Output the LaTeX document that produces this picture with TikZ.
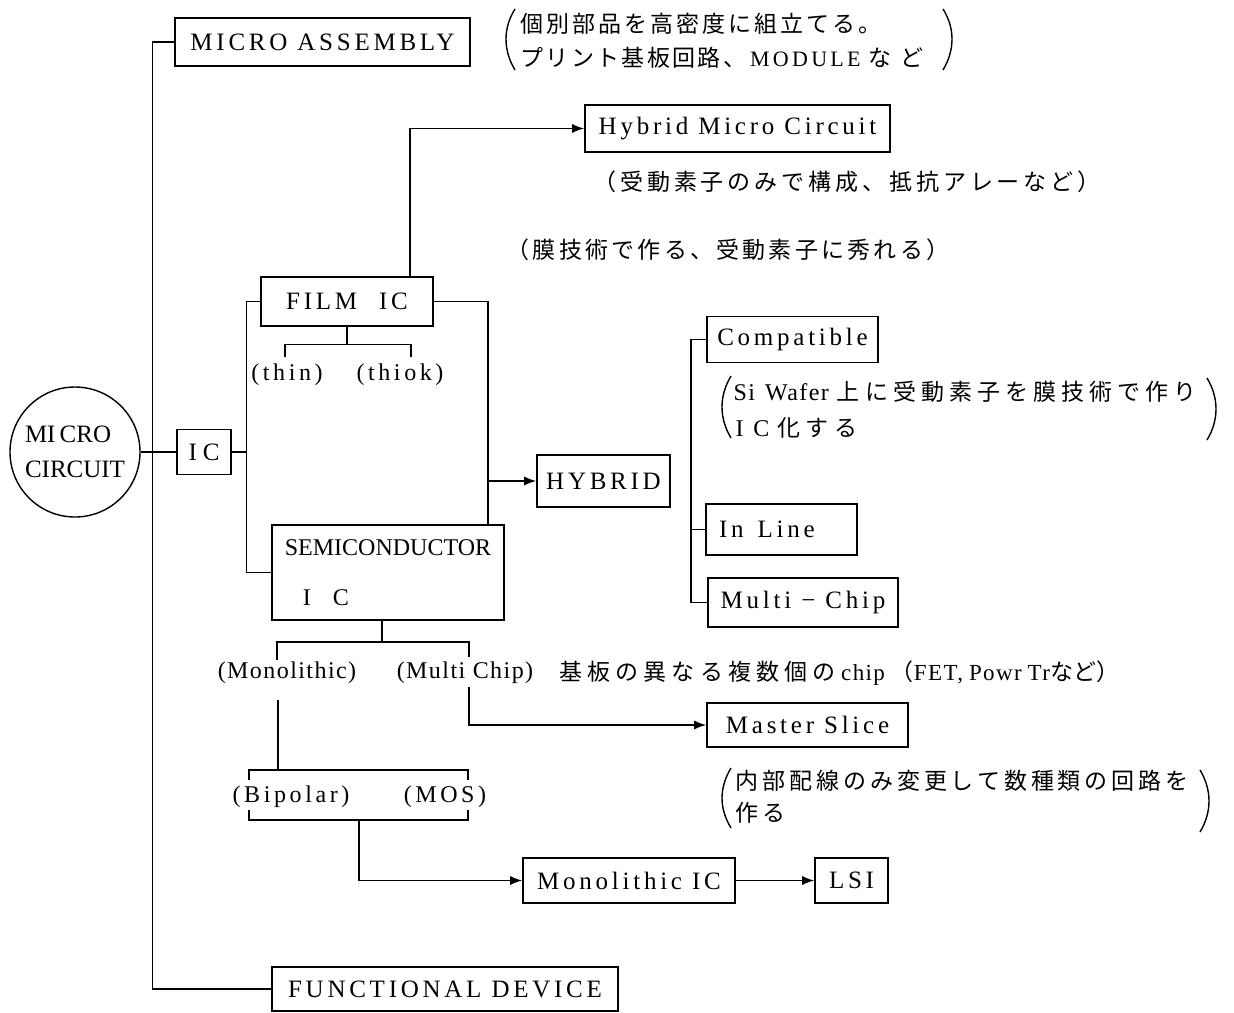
\documentclass[tikz,border=0pt]{standalone}
\usepackage{fontspec}
\setmainfont{Liberation Serif}
\newfontfamily\bxf[LetterSpace=15]{Liberation Serif}
\newfontfamily\mdf[LetterSpace=6]{Liberation Serif}
\newfontfamily\cjk{Noto Sans CJK JP}
\usetikzlibrary{arrows.meta}
\newcommand\js[2]{{\cjk\addfontfeatures{LetterSpace=#1}#2}}
\begin{document}
\begin{tikzpicture}[x=1pt,y=-1pt,line width=1.4pt,
  box/.style={draw,line width=1.6pt,inner sep=0pt,font=\fontsize{25}{29}\bxf},
  arr/.style={-{Latex[length=12pt,width=9pt]}},
  lbl/.style={inner sep=0pt,font=\fontsize{24}{28}\bxf},
  mlbl/.style={inner sep=0pt,font=\fontsize{24}{28}\mdf},
  jt/.style={inner sep=0pt,anchor=west,font=\fontsize{23}{27}\selectfont},
  paren/.style={line width=1.4pt}]
\fill[white] (0,0) rectangle (1234,1012);
\useasboundingbox (0,0) rectangle (1234,1012);

% nodes
\node[draw,circle,line width=1.4pt,minimum size=130pt,inner sep=0pt,align=left,
      font=\fontsize{25}{35}\selectfont] (mc) at (75,452) {MI\,CRO\\CIRCUIT};
\node[box,minimum width=295pt,minimum height=48pt] (ma) at (322.5,42) {MICRO ASSEMBLY};
\node[box,minimum width=305pt,minimum height=47pt] (hmc) at (737.5,128.5) {Hybrid Micro Circuit};
\node[box,minimum width=172pt,minimum height=49pt] (film) at (347,301.5) {FILM\hspace{22pt}IC};
\node[box,minimum width=54pt,minimum height=45pt] (ic) at (204,452) {I\hspace{6pt}C};
\node[box,minimum width=232pt,minimum height=95pt,align=left,font=\fontsize{24}{28}\selectfont]
      (semi) at (388,572.5) {SEMICONDUCTOR\\[22pt]\hspace{18pt}I\hspace{22pt}C};
\node[box,minimum width=133pt,minimum height=52pt] (hyb) at (603.5,481) {HYBRID};
\node[box,minimum width=171pt,minimum height=46pt] (comp) at (792.5,339.5) {Compatible};
\node[box,inner xsep=13pt,text width=125pt,align=left,minimum height=51pt] (inl) at (781.5,529.5) {In\hspace{14pt}Line};
\node[box,minimum width=190pt,minimum height=49pt] (mch) at (803,602.5) {Multi − Chip};
\node[box,minimum width=201pt,minimum height=44pt] (ms) at (807.5,725) {Master Slice};
\node[box,minimum width=212pt,minimum height=45pt] (mic) at (629,880.5) {Monolithic IC};
\node[box,minimum width=73pt,minimum height=45pt] (lsi) at (851.5,880.5) {LSI};
\node[box,minimum width=346pt,minimum height=44pt] (fd) at (445,989) {FUNCTIONAL DEVICE};

% labels
\node[lbl] (thin) at (287,375) {(thin)};
\node[lbl] (thiok) at (400,375) {(thiok)};
\node[mlbl] (mono) at (287,673) {(Monolithic)};
\node[mlbl] (mchip) at (465,673) {(Multi Chip)};
\node[lbl] (bip) at (291,797) {(Bipolar)};
\node[lbl] (mos) at (445,797) {(MOS)};

% notes
\node[jt] (n1) at (520,24) {\js{13}{個別部品を高密度に組立てる。}};
\node[jt] (n2) at (520,58) {\js{10}{プリント基板回路、}\hspace{4pt}{\fontsize{22}{26}\bxf MODULE}\hspace{8pt}\js{40}{など}};
\node[inner sep=0pt,font=\fontsize{23}{27}\selectfont] (n3) at (847,182) {\js{17}{（受動素子のみで構成、抵抗アレーなど）}};
\node[inner sep=0pt,font=\fontsize{23}{27}\selectfont] (n4) at (728,250) {\js{14}{（膜技術で作る、受動素子に秀れる）}};
\node[jt] (n5) at (733,392) {{\fontsize{24}{28}\mdf Si}\hspace{10pt}{\fontsize{24}{28}\mdf Wafer}\hspace{8pt}\js{22}{上に受動素子を膜技術で作り}};
\node[jt] (n6) at (735,428) {{\fontsize{24}{28}\bxf I C}\hspace{8pt}\js{24}{化する}};
\node[jt] (n7) at (559,673) {\js{22}{基板の異なる複数個の}\hspace{6pt}{\fontsize{23}{27}\mdf chip}\hspace{6pt}\js{0}{（}{\fontsize{23}{27}\mdf FET,\hspace{6pt}Powr\hspace{6pt}Tr}\js{0}{など）}};
\node[jt] (n8) at (735,781) {\js{17}{内部配線のみ変更して数種類の回路を}};
\node[jt] (n9) at (735,813) {\js{17}{作る}};

% parentheses
\draw[paren] (515,9) .. controls (503,28) and (503,50) .. (515,70);
\draw[paren] (943,9) .. controls (955,28) and (955,50) .. (943,70);
\draw[paren] (731,376) .. controls (719,396) and (719,418) .. (731,438);
\draw[paren] (1207,378) .. controls (1219,398) and (1219,420) .. (1207,440);
\draw[paren] (731,768) .. controls (719,788) and (719,808) .. (731,828);
\draw[paren] (1200,770) .. controls (1212,790) and (1212,812) .. (1200,832);

% connectors
\draw (mc.east) -- (ic.west);
\draw (ma.west) -- ++(-22,0) |- (fd.west);
\coordinate (icj) at (247,452);
\draw (ic.east) -- (icj);
\draw (film.west) -- ++(-14,0) |- (semi.west);
\coordinate (fr) at (488,301.5);
\draw (film.east) -- (fr) -- (fr |- semi.north);
\draw[arr] (fr |- hyb.west) -- (hyb.west);
\coordinate (ht) at (410,0);
\draw[arr] (film.north -| ht) |- (hmc.west);
\path (film.south) ++(0,17.5) coordinate (fb);
\draw (film.south) -- (fb);
\draw (285,357) |- (fb) -| (411,357);
\coordinate (sb) at (382,642);
\draw (semi.south -| sb) -- (sb);
\draw (277,660) |- (sb) -| (469,657);
\draw (278,700) -- (278,770);
\draw (249,780) |- (468,770) -- (468,780);
\draw (249,810) |- (468,820) -- (468,810);
\draw[arr] (359,820) |- (mic.west);
\draw[arr] (469,687) |- (ms.west);
\draw[arr] (mic.east) -- (lsi.west);
\coordinate (hv) at (691,0);
\draw (comp.west) -| (hv |- mch.west) -- (mch.west);
\draw (inl.west) -- (inl.west -| hv);
\end{tikzpicture}
\end{document}
